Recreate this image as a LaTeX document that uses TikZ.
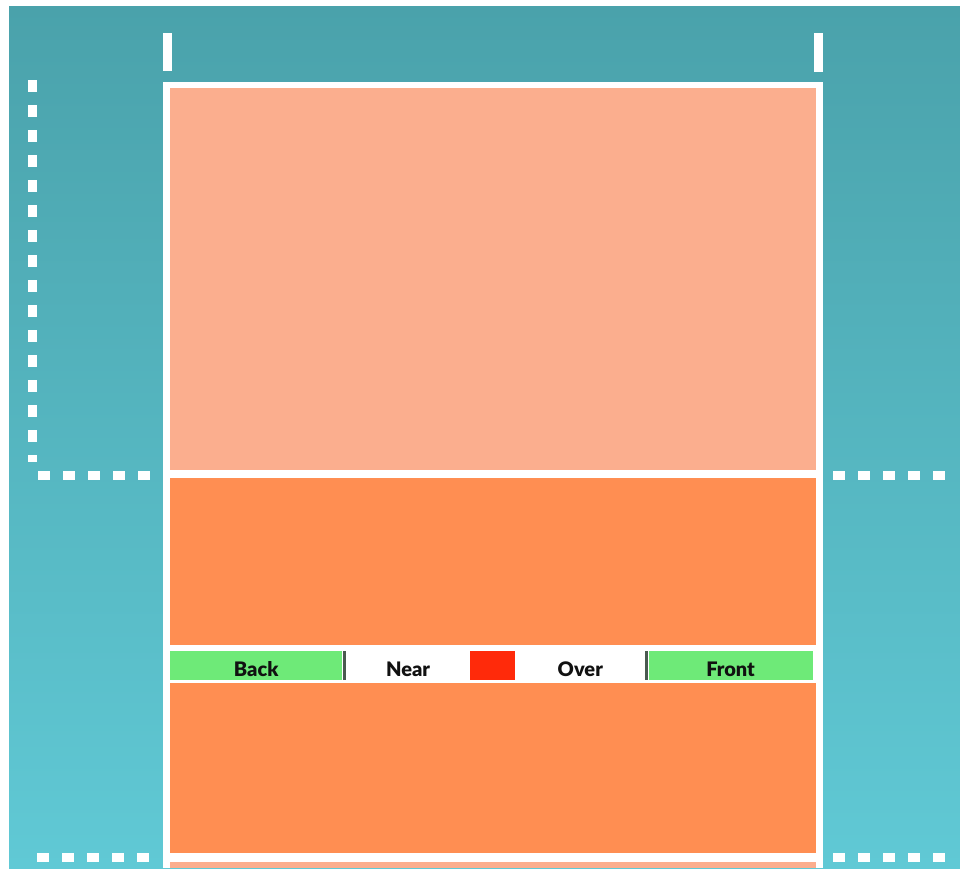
\documentclass[tikz,border=0pt]{standalone}
\usepackage{fontspec}
\setmainfont{Lato}[BoldFont={Lato Black}]
\usetikzlibrary{positioning}

\definecolor{tealtop}{HTML}{4AA2AB}
\definecolor{tealbottom}{HTML}{60C9D5}
\definecolor{salmon}{HTML}{FBAE8E}
\definecolor{courtorange}{HTML}{FF8E52}
\definecolor{zonegreen}{HTML}{6EEA78}
\definecolor{netred}{HTML}{FF2A0A}
\definecolor{sepgrey}{HTML}{4A5A50}
\definecolor{labeltext}{HTML}{111111}

\begin{document}
\begin{tikzpicture}[
  x=1pt, y=-1pt,
  every node/.style={font=\fontsize{20}{22}\selectfont\bfseries, text=labeltext},
  zone/.style={rectangle, inner sep=0pt, minimum height=29pt, text height=22pt, text depth=0pt, anchor=west},
  sepbar/.style={zone, fill=sepgrey, minimum width=3pt},
  courtline/.style={white, line width=9pt},
  sideline/.style={white, line width=9pt, dash pattern=on 12pt off 13pt}
]

\useasboundingbox (0,0) rectangle (960,868);
\fill[white] (0,0) rectangle (960,868);
\shade[top color=tealtop, bottom color=tealbottom] (9,6) rectangle (960,868);

% court
\fill[white] (163,82) rectangle (823,868);
\fill[salmon] (170,88) rectangle (816,470);
\fill[courtorange] (170,478) rectangle (816,645);
\fill[courtorange] (170,683) rectangle (816,853);
\fill[salmon] (170,862) rectangle (816,868);

% posts
\draw[courtline] (167.5,33) -- (167.5,71);
\draw[courtline] (818,33) -- (818,72);

% dashed lines outside the court
\draw[sideline] (32,80) -- (32,462);
\draw[sideline] (38,475) -- (155,475);
\draw[sideline] (833,475) -- (955,475);
\draw[sideline] (37,857) -- (155,857);
\draw[sideline] (833,857) -- (955,857);

% zone strip
\node[zone, fill=zonegreen, minimum width=172pt] (back) at (170,665.5) {Back};
\node[sepbar, right=0pt of back] (sepA) {};
\node[zone, fill=white, minimum width=124pt, right=0pt of sepA] (near) {Near};
\node[zone, fill=netred, minimum width=45pt, right=0pt of near] (net) {};
\node[zone, fill=white, minimum width=129pt, right=0pt of net] (over) {Over};
\node[sepbar, right=0pt of over] (sepB) {};
\node[zone, fill=zonegreen, minimum width=164pt, right=0pt of sepB] (front) {Front};

\end{tikzpicture}
\end{document}
